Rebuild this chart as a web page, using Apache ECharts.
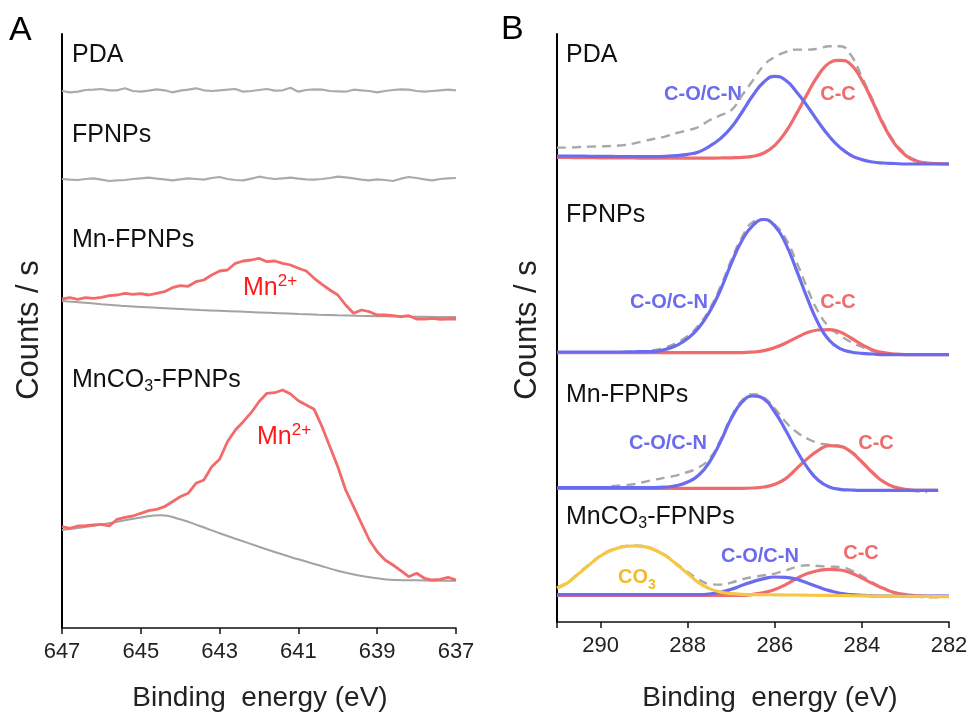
<!DOCTYPE html>
<html>
<head>
<meta charset="utf-8">
<script src="https://cdn.jsdelivr.net/npm/echarts@6/dist/echarts.min.js"></script>
<style>
  html, body { margin: 0; padding: 0; background: #fff; }
  #main { width: 972px; height: 717px; }
</style>
</head>
<body>
<div id="main"></div>
<script>
// ---- panel A: Mn 2p region ----
var energyA = [647, 646.8, 646.6, 646.4, 646.2, 646, 645.8, 645.6, 645.4, 645.2, 645, 644.8, 644.6, 644.4, 644.2, 644, 643.8, 643.6, 643.4, 643.2, 643, 642.8, 642.6, 642.4, 642.2, 642, 641.8, 641.6, 641.4, 641.2, 641, 640.8, 640.6, 640.4, 640.2, 640, 639.8, 639.6, 639.4, 639.2, 639, 638.8, 638.6, 638.4, 638.2, 638, 637.8, 637.6, 637.4, 637.2, 637];
// stacked (offset) intensities, arbitrary units
var pdaA = [537, 535.7, 536.3, 538, 538.3, 539, 537.7, 537.7, 539.7, 537, 536.3, 537.3, 538.7, 537.7, 535.7, 537.3, 538.3, 539.7, 537.7, 537, 537.7, 538.3, 539, 536.3, 537, 538, 539, 537.3, 537.7, 540.3, 536.3, 538, 538.7, 538.3, 537, 536.7, 536.3, 538.3, 537.7, 537, 535.7, 537, 538, 538.7, 538.3, 537, 536.3, 537, 537.7, 538.3, 537.7];
var fpnpsA = [449, 448.3, 448, 449, 449.7, 448.3, 447, 447.7, 448, 449, 449.7, 450.3, 449.3, 448.7, 447.7, 448.7, 449.7, 449, 448.3, 450, 451, 449, 448, 447.7, 449.3, 451.3, 450, 449, 449.7, 450.3, 449.3, 448.7, 448.3, 449, 450, 451.3, 450.7, 449.7, 448.3, 447.7, 448.7, 448, 447, 449.3, 451, 450, 448.7, 447.7, 449, 449.7, 450];
var mnA = [329, 330.3, 328.7, 330.3, 329.7, 330.7, 332.3, 333, 334.7, 333.7, 334.3, 333, 334.7, 336.3, 340.3, 342.3, 341.7, 346.3, 348, 353, 357, 358, 364.7, 367, 368, 369.7, 366.3, 367, 364.7, 363, 359.7, 357, 349.7, 343.7, 338, 333, 323, 314.7, 318, 316.3, 313, 313, 312.3, 311.3, 312.3, 309, 309, 309.7, 308.7, 309, 309];
var mnco3A = [101.3, 99.7, 102, 102.3, 103, 103.7, 102, 108.7, 110.7, 112, 114.7, 117.3, 118.7, 121.3, 126.3, 131.3, 134.7, 144.7, 148, 161.3, 168.7, 186.3, 198, 206.3, 215.3, 226.3, 234.7, 235.3, 238, 234, 227.3, 223, 218.7, 201.3, 181.3, 161.3, 138, 121.3, 104.7, 88, 76.3, 68, 63, 57.3, 51.3, 54.7, 49.7, 48, 48.7, 50.7, 48];
// backgrounds
var energyBgA = [647, 646.5, 646, 645.5, 645, 644.5, 644, 643.5, 643, 642.5, 642, 641.5, 641, 640.5, 640, 639.5, 639, 638.5, 638, 637.5, 637];
var mnBgA = [327, 325.5, 323.8, 322.3, 321, 320, 319, 318, 317.2, 316.4, 315.6, 314.8, 314, 313.3, 312.7, 312.2, 311.8, 311.5, 311.3, 311.1, 311];
var mnco3BgA = [98, 100.5, 103.5, 107, 110.5, 112.8, 108.7, 102, 94.7, 88, 81.3, 74.7, 68.7, 63, 57.3, 52.7, 49.7, 48, 47.7, 47.3, 47.3];
var ticksA = [647, 645, 643, 641, 639, 637];

// ---- panel B: C 1s region ----
var energyB = [291, 290.75, 290.5, 290.25, 290, 289.75, 289.5, 289.25, 289, 288.75, 288.5, 288.25, 288, 287.75, 287.5, 287.25, 287, 286.75, 286.5, 286.25, 286, 285.75, 285.5, 285.25, 285, 284.75, 284.5, 284.25, 284, 283.75, 283.5, 283.25, 283, 282.75, 282.5, 282.25, 282];
var pdaCO = [466, 466, 466, 465.7, 465.7, 465.6, 465.4, 465.4, 465.4, 465.4, 465.7, 466.4, 467.7, 470, 475.7, 483.4, 494.4, 510, 526.7, 540, 545.7, 541.7, 530, 515.7, 500, 485.7, 474.4, 466.7, 462.4, 460, 459, 458.5, 458, 458, 458, 458, 458];
var pdaCC = [464.5, 464.5, 464.4, 464.3, 464.2, 464.1, 464, 464, 463.9, 463.8, 463.8, 463.8, 463.8, 463.8, 463.9, 464, 464.2, 464.6, 465.7, 469, 476.7, 490, 508.4, 528.4, 546.7, 559, 561.7, 557.4, 541.7, 520, 496.7, 478.4, 466.7, 461, 459, 458.4, 458.2];
var pdaEnv = [474.4, 474.4, 475, 475.4, 475.7, 476, 476.7, 478.4, 481, 483.4, 485.7, 489, 491.7, 495, 501.7, 506.7, 511.7, 526.7, 541.7, 556.7, 565, 570, 572.4, 572.4, 573.4, 575.7, 575.7, 566.7, 545, 521.7, 498.4, 480, 468.4, 461.7, 459, null, null];
var fpCO = [270, 270, 270, 270, 270, 270, 270, 270.2, 270.4, 270.7, 272.7, 276.7, 283.4, 294, 310, 331.7, 358.4, 381.7, 396.7, 402.5, 396, 378.4, 351.7, 323.4, 298.4, 281.7, 273.4, 270, 268.7, 268, 267.4, 267.4, 267.4, 267.4, 267.4, 267.4, 267.4];
var fpCC = [269.4, 269.4, 269.4, 269.4, 269.4, 269.4, 269.4, 269.4, 269.4, 269.4, 269.4, 269.4, 269.4, 269.4, 269.4, 269.4, 269.4, 269.4, 270, 271.4, 274.4, 279, 284.4, 289.4, 292, 292.4, 290, 284, 277.4, 272, 269.4, 268, 267.4, 267.4, 267.4, 267.4, 267.4];
var fpEnv = [null, null, null, null, null, null, 270, 270, 270.7, 272, 274.7, 279.4, 286, 296.7, 312.7, 335, 361.7, 385, 400, 402.7, 397.4, 383.4, 360, 333.4, 310, 295, 286.7, 280, 275, 271, 268.7, 267.7, 267.4, null, null, null, null];
var mnCO = [134.4, 134.4, 134.4, 134.4, 134.4, 134.4, 134.4, 134.4, 134.4, 134.4, 135, 136.4, 140, 146.7, 160, 180, 203.4, 220, 226, 223, 210, 191.7, 171.7, 154.4, 141.7, 135, 132.7, 132, 131.7, 131.7, 131.7, 131.7, 131.7, 131.7, 131.7, 131.7, null];
var mnCC = [133.7, 133.7, 133.7, 133.7, 133.7, 133.7, 133.7, 133.7, 133.7, 133.7, 133.7, 133.7, 133.7, 133.7, 133.7, 133.7, 133.7, 133.7, 134, 135, 137.7, 143.4, 153.4, 163.4, 171.7, 176.4, 175.7, 170, 160, 149, 140, 135, 132.7, 131.7, 131.7, 131.7, null];
var mnEnv = [null, null, null, null, null, 135.7, 136.7, 137.7, 140, 142.4, 144.4, 146.7, 150, 154.4, 163.4, 181.7, 205, 221.7, 227.7, 224.4, 213.4, 200, 190, 183.4, 179, 177.4, 176, 170.7, 160.7, 149.7, 140.7, 135, 132.4, 130.7, 130, null, null];
var mcCO3 = [34, 39.4, 48.4, 57.4, 66, 71.7, 75, 76, 75.4, 71.7, 66, 57.4, 48.4, 39.4, 33.4, 30, 28.4, 27.7, 27.4, 27.3, 27.2, 27, 27, 26.8, 26.7, 26.6, 26.5, 26.3, 26.2, 26, 25.9, 25.8, 25.7, 25.6, 25.5, 25.4, 25.4];
var mcCO = [27.4, 27.4, 27.4, 27.4, 27.4, 27.4, 27.4, 27.4, 27.4, 27.4, 27.4, 27.4, 27.4, 27.4, 28, 29.7, 32.7, 36.7, 40.4, 43.4, 45, 44.7, 42.7, 39, 35, 31.4, 28.7, 27.4, 26.7, 26.2, 26, 26, 26, 26, 26, 26, 26];
var mcCC = [26.7, 26.7, 26.7, 26.7, 26.7, 26.7, 26.7, 26.7, 26.7, 26.7, 26.7, 26.7, 26.7, 26.7, 26.7, 26.7, 26.7, 26.7, 27.7, 29.4, 32.4, 37.4, 43.4, 48.4, 51.4, 52.7, 52, 49, 44, 38.4, 33.4, 29.4, 27.4, 26.4, 25.7, 25.7, 25.7];
var mcEnv = [34.5, 40, 49, 58, 66.5, 72.2, 75.5, 76.5, 76, 72.2, 66.5, 58, 50, 42.7, 38, 37.4, 39.4, 42.7, 45, 46.7, 48.4, 51.7, 55, 56.7, 56, 55.4, 55, 51.7, 46, 39.4, 33.4, 29.4, 26.7, 25.4, 24.7, 24.7, null];
var ticksB = [291, 290, 288, 286, 284, 282];
var labelsB = [290, 288, 286, 284, 282];

var FONT = '"Liberation Sans", Arial, sans-serif';
var RED_A = '#f26a6a', GRAY_NOISE = '#ababab', GRAY_BG = '#a3a3a3';
var RED = '#f06c6c', BLUE = '#6b6bf0', YELLOW = '#f6c743', DASH = '#a8a8a8';

function pairs(xs, ys) {
  var out = [];
  for (var i = 0; i < xs.length; i++) {
    if (ys[i] != null) out.push([xs[i], ys[i]]);
  }
  return out;
}

function line(idx, xs, ys, color, width, opts) {
  var s = {
    type: 'line', xAxisIndex: idx, yAxisIndex: idx,
    data: pairs(xs, ys), showSymbol: false, symbol: 'none',
    silent: true, animation: false,
    lineStyle: { color: color, width: width }
  };
  if (opts) {
    if (opts.smooth != null) s.smooth = opts.smooth;
    if (opts.dash) s.lineStyle.type = [9, 6];
  }
  return s;
}

function xAxisOf(idx, min, max, ticks, labels) {
  return {
    gridIndex: idx, type: 'value', inverse: true, min: min, max: max,
    axisLine: { onZero: false, lineStyle: { color: '#111', width: 1.5 } },
    axisTick: { show: true, customValues: ticks, length: 6, lineStyle: { color: '#111', width: 1.5 } },
    axisLabel: { customValues: labels, fontSize: 22, color: '#222', fontFamily: FONT, margin: 13 },
    splitLine: { show: false }
  };
}

function yAxisOf(idx, max) {
  return {
    gridIndex: idx, type: 'value', min: 0, max: max,
    axisLine: { show: true, lineStyle: { color: '#000', width: 2 } },
    axisTick: { show: false }, axisLabel: { show: false }, splitLine: { show: false }
  };
}

// text helpers for the panel annotations
function txt(x, y, text, size, color, extra) {
  var st = { text: text, fontSize: size, fontFamily: FONT, fill: color,
             align: 'left', verticalAlign: 'middle', lineHeight: 30 };
  for (var k in extra) st[k] = extra[k];
  return { type: 'text', x: x, y: y, silent: true, style: st };
}
var subRich = function (size, weight) {
  return { s: { fontSize: size, fontFamily: FONT, fontWeight: weight || 'normal', verticalAlign: 'bottom', lineHeight: size } };
};
var supRich = { p: { fontSize: 17, fontFamily: FONT, verticalAlign: 'top', lineHeight: 17 } };

var chart = echarts.init(document.getElementById('main'));

var option = {
  backgroundColor: '#fff',
  animation: false,
  grid: [
    { left: 62, top: 34, width: 394, height: 594 },
    { left: 557, top: 34, width: 392, height: 588 }
  ],
  xAxis: [
    xAxisOf(0, 637, 647, ticksA, ticksA),
    xAxisOf(1, 282, 291, ticksB, labelsB)
  ],
  yAxis: [yAxisOf(0, 594), yAxisOf(1, 588)],
  series: [
    line(0, energyA, pdaA, GRAY_NOISE, 2.2),
    line(0, energyA, fpnpsA, GRAY_NOISE, 2.2),
    line(0, energyBgA, mnBgA, GRAY_BG, 2, { smooth: true }),
    line(0, energyA, mnA, RED_A, 2.8),
    line(0, energyBgA, mnco3BgA, GRAY_BG, 2, { smooth: true }),
    line(0, energyA, mnco3A, RED_A, 2.8),

    line(1, energyB, pdaEnv, DASH, 2.4, { smooth: true, dash: true }),
    line(1, energyB, pdaCC, RED, 3.2, { smooth: true }),
    line(1, energyB, pdaCO, BLUE, 3.2, { smooth: true }),
    line(1, energyB, fpEnv, DASH, 2.4, { smooth: true, dash: true }),
    line(1, energyB, fpCC, RED, 3.2, { smooth: true }),
    line(1, energyB, fpCO, BLUE, 3.2, { smooth: true }),
    line(1, energyB, mnEnv, DASH, 2.4, { smooth: true, dash: true }),
    line(1, energyB, mnCC, RED, 3.2, { smooth: true }),
    line(1, energyB, mnCO, BLUE, 3.2, { smooth: true }),
    line(1, energyB, mcEnv, DASH, 2.4, { smooth: true, dash: true }),
    line(1, energyB, mcCC, RED, 3.2, { smooth: true }),
    line(1, energyB, mcCO, BLUE, 3.2, { smooth: true }),
    line(1, energyB, mcCO3, YELLOW, 3.2, { smooth: true })
  ],
  graphic: [
    // panel letters
    txt(9, 31, 'A', 34, '#000'),
    txt(501, 30, 'B', 34, '#000'),
    // axis titles
    txt(260, 698, 'Binding  energy (eV)', 28, '#222', { align: 'center' }),
    txt(770, 698, 'Binding  energy (eV)', 28, '#222', { align: 'center' }),
    { type: 'text', x: 29, y: 330, rotation: Math.PI / 2, silent: true,
      style: { text: 'Counts / s', fontSize: 31, fontFamily: FONT, fill: '#222', align: 'center', verticalAlign: 'middle' } },
    { type: 'text', x: 527, y: 330, rotation: Math.PI / 2, silent: true,
      style: { text: 'Counts / s', fontSize: 31, fontFamily: FONT, fill: '#222', align: 'center', verticalAlign: 'middle' } },
    // panel A sample names
    txt(72, 55, 'PDA', 25, '#111'),
    txt(72, 135, 'FPNPs', 25, '#111'),
    txt(72, 240, 'Mn-FPNPs', 25, '#111'),
    txt(72, 380, 'MnCO{s|3}-FPNPs', 25, '#111', { rich: subRich(16) }),
    txt(243, 288, 'Mn{p|2+}', 25, '#ff1a1a', { rich: supRich }),
    txt(257, 437, 'Mn{p|2+}', 25, '#ff1a1a', { rich: supRich }),
    // panel B sample names
    txt(566, 55, 'PDA', 25, '#111'),
    txt(566, 215, 'FPNPs', 25, '#111'),
    txt(566, 395, 'Mn-FPNPs', 25, '#111'),
    txt(566, 517, 'MnCO{s|3}-FPNPs', 25, '#111', { rich: subRich(16) }),
    // component labels
    txt(703, 94, 'C-O/C-N', 20, BLUE, { align: 'center', fontWeight: 'bold' }),
    txt(838, 94, 'C-C', 20, RED, { align: 'center', fontWeight: 'bold' }),
    txt(669, 302, 'C-O/C-N', 20, BLUE, { align: 'center', fontWeight: 'bold' }),
    txt(838, 302, 'C-C', 20, RED, { align: 'center', fontWeight: 'bold' }),
    txt(668, 443, 'C-O/C-N', 20, BLUE, { align: 'center', fontWeight: 'bold' }),
    txt(876, 443, 'C-C', 20, RED, { align: 'center', fontWeight: 'bold' }),
    txt(760, 556, 'C-O/C-N', 20, BLUE, { align: 'center', fontWeight: 'bold' }),
    txt(861, 553, 'C-C', 20, RED, { align: 'center', fontWeight: 'bold' }),
    txt(637, 577, 'CO{s|3}', 20, '#f2bb2a', { align: 'center', fontWeight: 'bold', rich: subRich(14, 'bold') })
  ]
};

chart.setOption(option);
</script>
</body>
</html>
